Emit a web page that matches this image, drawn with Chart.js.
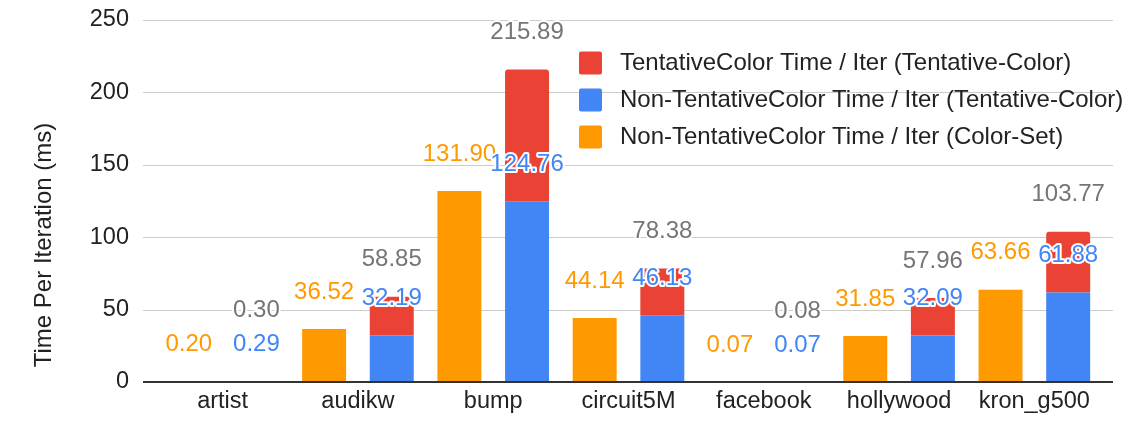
<!DOCTYPE html>
<html lang="en">
<head>
    <meta charset="UTF-8">
    <title>Time Per Iteration</title>
    <script src="https://cdn.jsdelivr.net/npm/chart.js"></script>
    <style>
        html, body { margin: 0; padding: 0; background: #fff; }
    </style>
</head>
<body>
    <canvas id="timeChart" width="1145" height="426"></canvas>
    <script>
        // data
        const graphs = ['artist', 'audikw', 'bump', 'circuit5M', 'facebook', 'hollywood', 'kron_g500'];
        const colorSetTime = [0.20, 36.52, 131.90, 44.14, 0.07, 31.85, 63.66];   // Color-Set
        const nonTentTime = [0.29, 32.19, 124.76, 46.13, 0.07, 32.09, 61.88];    // Tentative-Color, non-tentative part
        const tentTime = [0.01, 26.66, 91.13, 32.25, 0.01, 25.87, 41.89];        // Tentative-Color, tentative part
        const yTicks = [0, 50, 100, 150, 200, 250];
        const seriesNames = [
            'TentativeColor Time / Iter (Tentative-Color)',
            'Non-TentativeColor Time / Iter (Tentative-Color)',
            'Non-TentativeColor Time / Iter (Color-Set)'
        ];
        const yTitle = 'Time Per Iteration (ms)';

        const FONT = '"Liberation Sans", Arial, sans-serif';
        const RED = '#EA4335', BLUE = '#4285F4', ORANGE = '#FF9900', GREY = '#757575';

        Chart.defaults.font.family = FONT;
        Chart.defaults.font.size = 23.5;
        Chart.defaults.color = '#222222';

        function haloText(ctx, txt, x, y, color) {
            ctx.lineWidth = 4;
            ctx.lineJoin = 'round';
            ctx.strokeStyle = '#ffffff';
            ctx.strokeText(txt, x, y);
            ctx.fillStyle = color;
            ctx.fillText(txt, x, y);
        }

        const decor = {
            id: 'decor',
            beforeDatasetsDraw(chart) {
                const { ctx, chartArea: a, scales: { y } } = chart;
                ctx.save();
                ctx.strokeStyle = '#cccccc';
                ctx.lineWidth = 1;
                yTicks.forEach(v => {
                    if (v === 0) return;
                    const py = Math.round(y.getPixelForValue(v)) + 0.5;
                    ctx.beginPath();
                    ctx.moveTo(a.left - 12, py);
                    ctx.lineTo(a.right + 11, py);
                    ctx.stroke();
                });
                ctx.restore();
            },
            afterDatasetsDraw(chart) {
                const { ctx, chartArea: a, scales: { y } } = chart;
                ctx.save();

                // baseline
                const by = y.getPixelForValue(0);
                ctx.fillStyle = '#333333';
                ctx.fillRect(a.left - 12, by - 1, a.right - a.left + 23, 2);

                // value labels
                ctx.font = '24px ' + FONT;
                ctx.textAlign = 'center';
                ctx.textBaseline = 'middle';
                const mOrange = chart.getDatasetMeta(0).data;
                const mBlue = chart.getDatasetMeta(1).data;
                const mRed = chart.getDatasetMeta(2).data;
                graphs.forEach((g, i) => {
                    const o = mOrange[i], b = mBlue[i], r = mRed[i];
                    haloText(ctx, colorSetTime[i].toFixed(2), o.x, o.y - 37, ORANGE);
                    const blueY = b.y - 37;
                    haloText(ctx, nonTentTime[i].toFixed(2), b.x, blueY, BLUE);
                    const totY = Math.min(r.y - 37, blueY - 34);
                    haloText(ctx, (nonTentTime[i] + tentTime[i]).toFixed(2), r.x, totY, GREY);
                });

                // legend
                const order = [2, 1, 0];
                const lx = a.left + 424;
                order.forEach((di, k) => {
                    const ds = chart.data.datasets[di];
                    const cy = a.top + 43 + 37 * k;
                    ctx.fillStyle = ds.backgroundColor;
                    ctx.beginPath();
                    ctx.roundRect(lx, cy - 11.5, 23, 23, 2);
                    ctx.fill();
                    ctx.fillStyle = '#222222';
                    ctx.textAlign = 'left';
                    ctx.fillText(ds.label, lx + 41, cy);
                });

                // y axis title
                ctx.translate(a.left - 111, (a.top + a.bottom) / 2 + 44);
                ctx.rotate(-Math.PI / 2);
                ctx.textAlign = 'center';
                ctx.fillStyle = '#222222';
                ctx.fillText(yTitle, 0, 0);
                ctx.restore();
            }
        };

        const ctx = document.getElementById('timeChart').getContext('2d');
        new Chart(ctx, {
            type: 'bar',
            data: {
                labels: graphs,
                datasets: [
                    { label: seriesNames[2], data: colorSetTime, backgroundColor: ORANGE, stack: 'colorSet' },
                    { label: seriesNames[1], data: nonTentTime, backgroundColor: BLUE, stack: 'tentative' },
                    {
                        label: seriesNames[0], data: tentTime, backgroundColor: RED, stack: 'tentative',
                        borderRadius: { topLeft: 3, topRight: 3, bottomLeft: 0, bottomRight: 0 }
                    }
                ]
            },
            options: {
                responsive: false,
                animation: false,
                barPercentage: 0.65,
                categoryPercentage: 1.0,
                layout: { padding: { top: 20, right: 43, bottom: 0, left: 0 } },
                plugins: {
                    legend: { display: false },
                    tooltip: { enabled: false }
                },
                scales: {
                    x: {
                        stacked: true,
                        grid: { display: false, drawTicks: false },
                        border: { display: false },
                        ticks: { color: '#222222', padding: 5 },
                        afterFit: s => { s.height = 44; s.paddingLeft = 0; s.paddingRight = 0; }
                    },
                    y: {
                        stacked: true,
                        min: 0,
                        max: 250,
                        grid: { display: false, drawTicks: false },
                        border: { display: false },
                        ticks: { stepSize: 50, color: '#222222', padding: 26 },
                        afterFit: s => { s.width = 155; s.paddingTop = 0; s.paddingBottom = 0; }
                    }
                }
            },
            plugins: [decor]
        });
    </script>
</body>
</html>
